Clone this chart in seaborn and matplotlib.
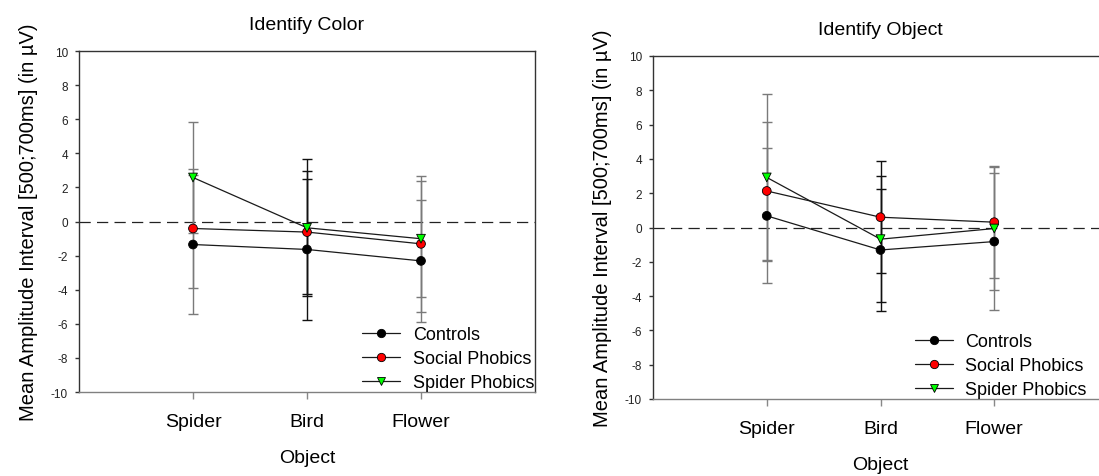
import matplotlib
matplotlib.use("Agg")
import matplotlib.pyplot as plt
from matplotlib.lines import Line2D
import seaborn as sns
import pandas as pd

# ---------------- data ----------------
categories = ["Spider", "Bird", "Flower"]
groups = ["Controls", "Social Phobics", "Spider Phobics"]
yticks = [-10, -8, -6, -4, -2, 0, 2, 4, 6, 8, 10]

# Identify Color
color_controls = [-1.35, -1.64, -2.31]
color_social = [-0.41, -0.62, -1.31]
color_spider = [2.58, -0.37, -1.01]
color_controls_err = [4.06, 4.16, 3.56]
color_social_err = [3.48, 3.61, 3.97]
color_spider_err = [3.25, 4.01, 3.40]

# Identify Object
object_controls = [0.68, -1.31, -0.82]
object_social = [2.13, 0.60, 0.31]
object_spider = [2.92, -0.68, -0.06]
object_controls_err = [3.94, 3.57, 4.00]
object_social_err = [4.00, 3.25, 3.28]
object_spider_err = [4.86, 3.67, 3.60]

titles = ["Identify Color", "Identify Object"]
ylabel = "Mean Amplitude Interval [500;700ms] (in µV)"
xlabel = "Object"

# ---------------- style ----------------
sns.set_theme(style="white")
plt.rcParams["font.family"] = ["Liberation Sans", "DejaVu Sans"]
plt.rcParams["text.color"] = "black"
plt.rcParams["axes.labelcolor"] = "black"
plt.rcParams["xtick.color"] = "black"
plt.rcParams["ytick.color"] = "black"

face = {"Controls": "black", "Social Phobics": "#ff0000", "Spider Phobics": "#00ff00"}
mark = {"Controls": "o", "Social Phobics": "o", "Spider Phobics": "v"}
cat_err_color = ["#7a7a7a", "#111111", "#7a7a7a"]


def make_df(means, errs):
    rows = []
    for g, m, e in zip(groups, means, errs):
        for i, c in enumerate(categories):
            rows.append({"group": g, "pos": i + 1, "category": c, "value": m[i], "err": e[i]})
    return pd.DataFrame(rows)


fig = plt.figure(figsize=(10.99, 4.77), dpi=100)
ax1 = fig.add_axes([79 / 1099, (477 - 393) / 477, (535 - 79) / 1099, (393 - 52) / 477])
ax2 = fig.add_axes([653 / 1099, (477 - 400) / 477, (1108 - 653) / 1099, (400 - 57) / 477])

panels = [
    (ax1, make_df([color_controls, color_social, color_spider],
                  [color_controls_err, color_social_err, color_spider_err])),
    (ax2, make_df([object_controls, object_social, object_spider],
                  [object_controls_err, object_social_err, object_spider_err])),
]

for k, (ax, df) in enumerate(panels):
    ax.axhline(0, color="#222222", lw=0.9, dashes=(9, 5), zorder=1)
    # error bars
    for _, r in df.iterrows():
        ax.errorbar(r["pos"], r["value"], yerr=r["err"], fmt="none",
                    ecolor=cat_err_color[int(r["pos"]) - 1], elinewidth=1.0,
                    capsize=3.5, capthick=1.0, zorder=2)
    # connecting lines
    for g in groups:
        sub = df[df["group"] == g]
        sns.lineplot(data=sub, x="pos", y="value", ax=ax, color="#1a1a1a",
                     lw=0.9, legend=False, zorder=3, sort=False)
    # markers
    sns.scatterplot(data=df, x="pos", y="value", hue="group", style="group",
                    palette=face, markers=mark, s=40, edgecolor="black",
                    linewidth=0.6, ax=ax, legend=False, zorder=4)

    ax.set_xlim(0, 4)
    ax.set_ylim(-10, 10)
    ax.set_xticks([1, 2, 3])
    ax.set_xticklabels(categories, fontsize=14)
    ax.set_yticks(yticks)
    ax.set_yticklabels([str(t) for t in yticks], fontsize=8.5, color="#222222")
    ax.tick_params(axis="x", direction="out", length=5, width=1, color="#888888",
                   pad=10, bottom=True)
    ax.tick_params(axis="y", direction="out", length=3, width=1, color="#333333",
                   pad=5, left=True)
    ax.set_xlabel(xlabel, fontsize=14, labelpad=14)
    ax.set_ylabel(ylabel, fontsize=14.5, labelpad=9)
    ax.set_title(titles[k], fontsize=14, pad=16)
    for name, sp in ax.spines.items():
        sp.set_visible(True)
        sp.set_linewidth(1.0)
        sp.set_color("#333333")
    ax.spines["bottom"].set_color("#808080")
    ax.grid(False)

    handles = [Line2D([0], [0], color="#1a1a1a", lw=0.9, marker=mark[g],
                      markerfacecolor=face[g], markeredgecolor="black",
                      markeredgewidth=0.6, markersize=6) for g in groups]
    if k == 0:
        anchor = (1.0, 0.0)
    else:
        anchor = (0.955, 0.0)
    ax.legend(handles, groups, loc="lower right", bbox_to_anchor=anchor,
              frameon=False, fontsize=13, handlelength=2.1, handletextpad=0.7,
              labelspacing=0.38, borderaxespad=0.0, borderpad=0.05)

fig.savefig("out.png", dpi=100)
